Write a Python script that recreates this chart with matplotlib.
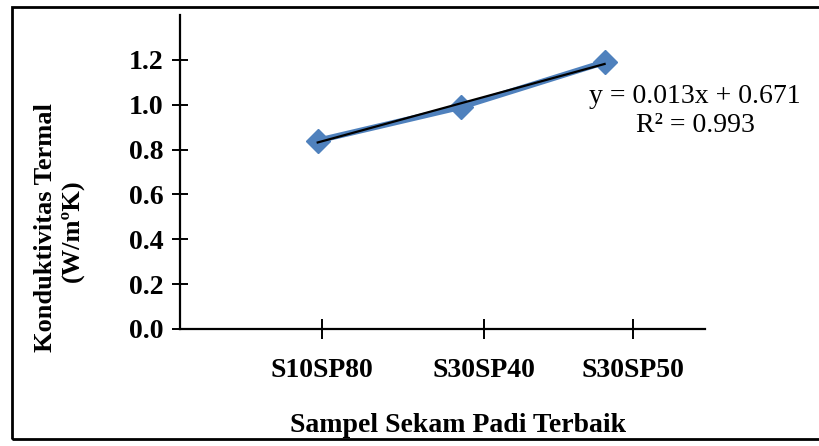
import numpy as np
import matplotlib
matplotlib.use("Agg")
import matplotlib.pyplot as plt
from matplotlib.patches import Rectangle

plt.rcParams['font.family'] = ['Liberation Serif', 'DejaVu Serif']

# Thermal conductivity of the best rice husk samples
samples = ['S10SP80', 'S30SP40', 'S30SP50']
conductivity = [0.84, 0.99, 1.19]
y_ticks = [0.0, 0.2, 0.4, 0.6, 0.8, 1.0, 1.2]
# category tick marks sit a bit off the plotted points
tick_pos = [1.03, 2.16, 3.2]
eq_text = 'y = 0.013x + 0.671\nR² = 0.993'

W, H = 820, 446
fig = plt.figure(figsize=(W / 100, H / 100), dpi=100)
ax = fig.add_axes([180 / W, 1 - 329 / H, (705 - 180) / W, (329 - 15) / H])

x = np.arange(1, len(samples) + 1)
ax.plot(x, conductivity, color='#4F81BD', lw=4.2, marker='D', ms=12.5,
        solid_capstyle='round', zorder=2)

# linear trendline
coef = np.polyfit(x, conductivity, 1)
ax.plot(x[[0, -1]], np.polyval(coef, x[[0, -1]]), color='black', lw=1.6, zorder=3)

ax.set_xlim(0.04, 3.7)
ax.set_ylim(0, 1.4)
ax.set_yticks(y_ticks)
ax.set_yticklabels([f'{v:.1f}' for v in y_ticks], fontsize=20, fontweight='bold')
ax.set_xticks(tick_pos)
ax.set_xticklabels(samples, fontsize=20, fontweight='bold')
ax.tick_params(axis='y', direction='inout', length=12, width=1.4, pad=6)
ax.tick_params(axis='x', direction='inout', length=14, width=1.4, pad=14)

for side in ['top', 'right']:
    ax.spines[side].set_visible(False)
for side in ['left', 'bottom']:
    ax.spines[side].set_linewidth(1.6)

fig.text(695 / W, 1 - 111 / H, eq_text, fontsize=20, ha='center', va='center',
         multialignment='center', linespacing=1.2)

fig.text(458 / W, 1 - 425 / H, 'Sampel Sekam Padi Terbaik', fontsize=20,
         fontweight='bold', ha='center', va='center')
fig.text(46 / W, 1 - 228 / H, 'Konduktivitas Termal', fontsize=19,
         fontweight='bold', rotation=90, ha='center', va='center')
fig.text(72 / W, 1 - 231 / H, '(W/mºK)', fontsize=19,
         fontweight='bold', rotation=90, ha='center', va='center')

# outer frame (right edge falls outside the image)
fig.add_artist(Rectangle((12 / W, 7 / H), 1.2, 1 - 14 / H, transform=fig.transFigure,
                         fill=False, edgecolor='black', lw=2, clip_on=False))

fig.savefig('out.png', dpi=100)
